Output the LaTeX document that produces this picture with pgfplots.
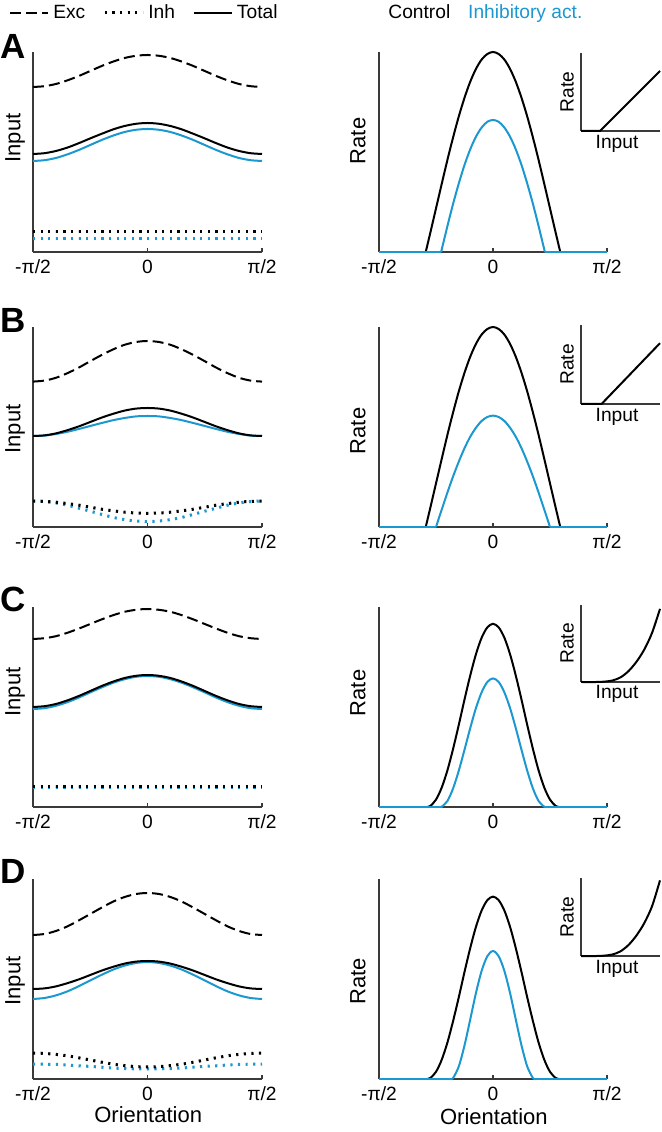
\documentclass[border=0pt]{standalone}
\usepackage{pgfplots}
\usepackage{pgfplotstable}
\pgfplotsset{compat=1.18}
\usepackage{fontspec}
\setmainfont{Liberation Sans}
\definecolor{ablue}{HTML}{1B98D0}
\definecolor{axgray}{HTML}{3A3A3A}
\newcommand\fs{\fontsize{9.6bp}{11bp}\selectfont}
\newcommand\fl{\fontsize{11bp}{13bp}\selectfont}

% Input tuning (left column): x = orientation / (pi/2)
\pgfplotstableread{
x exc totk totb inhk inhb
-1.0 0.825 0.490 0.455 0.100 0.065
-0.9 0.829 0.494 0.459 0.100 0.065
-0.8 0.840 0.505 0.470 0.100 0.065
-0.7 0.858 0.522 0.488 0.100 0.065
-0.6 0.880 0.544 0.510 0.100 0.065
-0.5 0.905 0.568 0.535 0.100 0.065
-0.4 0.930 0.591 0.560 0.100 0.065
-0.3 0.952 0.613 0.582 0.100 0.065
-0.2 0.970 0.630 0.600 0.100 0.065
-0.1 0.981 0.641 0.611 0.100 0.065
0.0 0.985 0.645 0.615 0.100 0.065
0.1 0.981 0.641 0.611 0.100 0.065
0.2 0.970 0.630 0.600 0.100 0.065
0.3 0.952 0.613 0.582 0.100 0.065
0.4 0.930 0.591 0.560 0.100 0.065
0.5 0.905 0.568 0.535 0.100 0.065
0.6 0.880 0.544 0.510 0.100 0.065
0.7 0.858 0.522 0.488 0.100 0.065
0.8 0.840 0.505 0.470 0.100 0.065
0.9 0.829 0.494 0.459 0.100 0.065
1.0 0.825 0.490 0.455 0.100 0.065
}\inA
\pgfplotstableread{
x exc totk totb inhk inhb
-1.0 0.727 0.455 0.455 0.130 0.130
-0.9 0.732 0.458 0.457 0.128 0.127
-0.8 0.746 0.468 0.465 0.124 0.120
-0.7 0.769 0.484 0.476 0.117 0.109
-0.6 0.797 0.503 0.490 0.109 0.094
-0.5 0.829 0.525 0.505 0.099 0.079
-0.4 0.860 0.547 0.520 0.089 0.063
-0.3 0.888 0.566 0.534 0.081 0.048
-0.2 0.911 0.582 0.545 0.074 0.037
-0.1 0.925 0.592 0.553 0.070 0.030
0.0 0.930 0.595 0.555 0.068 0.027
0.1 0.925 0.592 0.553 0.070 0.030
0.2 0.911 0.582 0.545 0.074 0.037
0.3 0.888 0.566 0.534 0.081 0.048
0.4 0.860 0.547 0.520 0.089 0.063
0.5 0.829 0.525 0.505 0.099 0.079
0.6 0.797 0.503 0.490 0.109 0.094
0.7 0.769 0.484 0.476 0.117 0.109
0.8 0.746 0.468 0.465 0.124 0.120
0.9 0.732 0.458 0.457 0.128 0.127
1.0 0.727 0.455 0.455 0.130 0.130
}\inB
\pgfplotstableread{
x exc totk totb inhk inhb
-1.0 0.840 0.500 0.490 0.100 0.095
-0.9 0.844 0.504 0.494 0.100 0.095
-0.8 0.854 0.515 0.506 0.100 0.095
-0.7 0.871 0.533 0.524 0.100 0.095
-0.6 0.892 0.555 0.547 0.100 0.095
-0.5 0.915 0.580 0.573 0.100 0.095
-0.4 0.938 0.605 0.598 0.100 0.095
-0.3 0.959 0.627 0.621 0.100 0.095
-0.2 0.976 0.645 0.639 0.100 0.095
-0.1 0.986 0.656 0.651 0.100 0.095
0.0 0.990 0.660 0.655 0.100 0.095
0.1 0.986 0.656 0.651 0.100 0.095
0.2 0.976 0.645 0.639 0.100 0.095
0.3 0.959 0.627 0.621 0.100 0.095
0.4 0.938 0.605 0.598 0.100 0.095
0.5 0.915 0.580 0.573 0.100 0.095
0.6 0.892 0.555 0.547 0.100 0.095
0.7 0.871 0.533 0.524 0.100 0.095
0.8 0.854 0.515 0.506 0.100 0.095
0.9 0.844 0.504 0.494 0.100 0.095
1.0 0.840 0.500 0.490 0.100 0.095
}\inC
\pgfplotstableread{
x exc totk totb inhk inhb
-1.0 0.720 0.450 0.400 0.130 0.075
-0.9 0.725 0.453 0.405 0.128 0.074
-0.8 0.740 0.463 0.418 0.123 0.073
-0.7 0.763 0.479 0.438 0.116 0.070
-0.6 0.793 0.498 0.464 0.106 0.066
-0.5 0.825 0.520 0.493 0.095 0.063
-0.4 0.857 0.542 0.521 0.084 0.059
-0.3 0.887 0.561 0.547 0.074 0.055
-0.2 0.910 0.577 0.567 0.067 0.052
-0.1 0.925 0.587 0.580 0.062 0.051
0.0 0.930 0.590 0.585 0.060 0.050
0.1 0.925 0.587 0.580 0.062 0.051
0.2 0.910 0.577 0.567 0.067 0.052
0.3 0.887 0.561 0.547 0.074 0.055
0.4 0.857 0.542 0.521 0.084 0.059
0.5 0.825 0.520 0.493 0.095 0.063
0.6 0.793 0.498 0.464 0.106 0.066
0.7 0.763 0.479 0.438 0.116 0.070
0.8 0.740 0.463 0.418 0.123 0.073
0.9 0.725 0.453 0.405 0.128 0.074
1.0 0.720 0.450 0.400 0.130 0.075
}\inD

\pgfplotsset{
  base/.style={scale only axis, axis x line*=bottom, axis y line*=left,
    axis line style={axgray, line width=0.8bp}, clip=false,
    xmin=-1, xmax=1, ymin=0, ymax=1, ytick=\empty, xtick={-1,0,1},
    xticklabels={-π/2,0,π/2}, tick align=inside, major tick length=2bp,
    tick style={axgray, line width=0.8bp}, ticklabel style={font=\fs},
    xticklabel style={yshift=-0.5bp},
    label style={font=\fl}, height=100bp},
  leftp/.style={base, width=114.5bp, ylabel={Input}},
  rightp/.style={base, width=114bp, ylabel={Rate}},
  inset/.style={scale only axis, axis x line*=bottom, axis y line*=left,
    axis line style={axgray, line width=0.8bp}, clip=false,
    xtick=\empty, ytick=\empty, xmin=0, xmax=1, ymin=0, ymax=1,
    width=39.5bp, xlabel={Input}, ylabel={Rate}, label style={font=\fs},
    xlabel style={at={(axis description cs:0.456,-0.16)}, anchor=center},
    ylabel style={at={(axis description cs:-0.177,0.5)}, anchor=center}},
  exc/.style={black, line width=1bp, dash pattern=on 5.5bp off 2.5bp},
  inhk/.style={black, line width=1.5bp, dash pattern=on 1.1bp off 2.7bp},
  inhb/.style={ablue, line width=1.5bp, dash pattern=on 1.1bp off 2.7bp},
  totk/.style={black, line width=1bp},
  totb/.style={ablue, line width=1bp},
  ivl/.style={black, line width=1bp},
}

\begin{document}
\begin{tikzpicture}
\useasboundingbox (0,0) rectangle (331bp,566bp);

% ---------- Row A ----------
\begin{axis}[leftp, at={(16.5bp,440bp)}, anchor=south west,
  ylabel style={at={(axis description cs:-0.0786,0.57)}, anchor=center},
  legend style={at={(axis description cs:0.491,1.195)}, anchor=center, draw=none, fill=none,
    legend columns=-1, font=\fs, /tikz/every even column/.append style={column sep=7bp}},
  legend image code/.code={\draw[#1] (0bp,0bp) -- (19bp,0bp);}]
\addlegendimage{exc}\addlegendentry{Exc}
\addlegendimage{inhk}\addlegendentry{Inh}
\addlegendimage{totk}\addlegendentry{Total}
\addplot[exc, smooth] table[x=x, y=exc] {\inA};
\addplot[inhb] table[x=x, y=inhb] {\inA};
\addplot[inhk] table[x=x, y=inhk] {\inA};
\addplot[totb, smooth] table[x=x, y=totb] {\inA};
\addplot[totk, smooth] table[x=x, y=totk] {\inA};
\end{axis}

\begin{axis}[rightp, at={(189.5bp,440bp)}, anchor=south west,
  ylabel style={at={(axis description cs:-0.092,0.555)}, anchor=center}]
\addplot[totk, smooth] coordinates {(-0.59,0)(-0.55,0.096)(-0.5,0.218)(-0.45,0.340)(-0.4,0.460)(-0.35,0.573)(-0.3,0.678)(-0.25,0.771)(-0.2,0.851)(-0.15,0.915)(-0.1,0.962)(-0.05,0.990)(0,1)(0.05,0.990)(0.1,0.962)(0.15,0.915)(0.2,0.851)(0.25,0.771)(0.3,0.678)(0.35,0.573)(0.4,0.460)(0.45,0.340)(0.5,0.218)(0.55,0.096)(0.59,0)};
\addplot[totb, smooth] coordinates {(-0.455,0)(-0.45,0.012)(-0.4,0.129)(-0.35,0.241)(-0.3,0.343)(-0.25,0.435)(-0.2,0.513)(-0.15,0.576)(-0.1,0.622)(-0.05,0.651)(0,0.660)(0.05,0.651)(0.1,0.622)(0.15,0.576)(0.2,0.513)(0.25,0.435)(0.3,0.343)(0.35,0.241)(0.4,0.129)(0.45,0.012)(0.455,0)};
\addplot[totb] coordinates {(-1,0)(-0.455,0)};
\addplot[totb] coordinates {(0.455,0)(1,0)};
\end{axis}

\begin{axis}[inset, at={(290.5bp,500.5bp)}, anchor=south west, height=39bp]
\addplot[ivl] coordinates {(0,0)(0.24,0)(1,0.77)};
\end{axis}

% ---------- Row B ----------
\begin{axis}[leftp, at={(16.5bp,302.5bp)}, anchor=south west,
  ylabel style={at={(axis description cs:-0.0786,0.49)}, anchor=center}]
\addplot[exc, smooth] table[x=x, y=exc] {\inB};
\addplot[inhb, smooth] table[x=x, y=inhb] {\inB};
\addplot[inhk, smooth] table[x=x, y=inhk] {\inB};
\addplot[totb, smooth] table[x=x, y=totb] {\inB};
\addplot[totk, smooth] table[x=x, y=totk] {\inB};
\end{axis}

\begin{axis}[rightp, at={(189.5bp,302.5bp)}, anchor=south west,
  ylabel style={at={(axis description cs:-0.092,0.48)}, anchor=center}]
\addplot[totk, smooth] coordinates {(-0.59,0)(-0.55,0.096)(-0.5,0.218)(-0.45,0.340)(-0.4,0.460)(-0.35,0.573)(-0.3,0.678)(-0.25,0.771)(-0.2,0.851)(-0.15,0.915)(-0.1,0.962)(-0.05,0.990)(0,1)(0.05,0.990)(0.1,0.962)(0.15,0.915)(0.2,0.851)(0.25,0.771)(0.3,0.678)(0.35,0.573)(0.4,0.460)(0.45,0.340)(0.5,0.218)(0.55,0.096)(0.59,0)};
\addplot[totb, smooth] coordinates {(-0.5,0)(-0.45,0.087)(-0.4,0.172)(-0.35,0.253)(-0.3,0.327)(-0.25,0.394)(-0.2,0.451)(-0.15,0.496)(-0.1,0.530)(-0.05,0.550)(0,0.557)(0.05,0.550)(0.1,0.530)(0.15,0.496)(0.2,0.451)(0.25,0.394)(0.3,0.327)(0.35,0.253)(0.4,0.172)(0.45,0.087)(0.5,0)};
\addplot[totb] coordinates {(-1,0)(-0.5,0)};
\addplot[totb] coordinates {(0.5,0)(1,0)};
\end{axis}

\begin{axis}[inset, at={(290.5bp,364bp)}, anchor=south west, height=39.5bp]
\addplot[ivl] coordinates {(0,0)(0.26,0)(1,0.77)};
\end{axis}

% ---------- Row C ----------
\begin{axis}[leftp, at={(16.5bp,162.5bp)}, anchor=south west,
  ylabel style={at={(axis description cs:-0.0786,0.575)}, anchor=center}]
\addplot[exc, smooth] table[x=x, y=exc] {\inC};
\addplot[inhb] table[x=x, y=inhb] {\inC};
\addplot[inhk] table[x=x, y=inhk] {\inC};
\addplot[totb, smooth] table[x=x, y=totb] {\inC};
\addplot[totk, smooth] table[x=x, y=totk] {\inC};
\end{axis}

\begin{axis}[rightp, at={(189.5bp,162.5bp)}, anchor=south west,
  ylabel style={at={(axis description cs:-0.092,0.57)}, anchor=center}]
\addplot[totk, smooth] coordinates {(-0.58,0)(-0.55,0.005)(-0.5,0.037)(-0.45,0.097)(-0.4,0.183)(-0.35,0.291)(-0.3,0.411)(-0.25,0.537)(-0.2,0.657)(-0.15,0.763)(-0.1,0.846)(-0.05,0.898)(0,0.916)(0.05,0.898)(0.1,0.846)(0.15,0.763)(0.2,0.657)(0.25,0.537)(0.3,0.411)(0.35,0.291)(0.4,0.183)(0.45,0.097)(0.5,0.037)(0.55,0.005)(0.58,0)};
\addplot[totb, smooth] coordinates {(-0.46,0)(-0.45,0.001)(-0.4,0.030)(-0.35,0.093)(-0.3,0.182)(-0.25,0.286)(-0.2,0.394)(-0.15,0.494)(-0.1,0.573)(-0.05,0.625)(0,0.643)(0.05,0.625)(0.1,0.573)(0.15,0.494)(0.2,0.394)(0.25,0.286)(0.3,0.182)(0.35,0.093)(0.4,0.030)(0.45,0.001)(0.46,0)};
\addplot[totb] coordinates {(-1,0)(-0.46,0)};
\addplot[totb] coordinates {(0.46,0)(1,0)};
\end{axis}

\begin{axis}[inset, at={(290.5bp,225bp)}, anchor=south west, height=38.5bp]
\addplot[ivl, smooth] coordinates {(0,0)(0.2,0)(0.3,0.005)(0.4,0.02)(0.5,0.06)(0.6,0.14)(0.7,0.26)(0.8,0.42)(0.9,0.64)(1,0.95)};
\end{axis}

% ---------- Row D ----------
\begin{axis}[leftp, at={(16.5bp,26.5bp)}, anchor=south west, xlabel={Orientation},
  xlabel style={at={(axis description cs:0.503,-0.18)}, anchor=center},
  ylabel style={at={(axis description cs:-0.0786,0.49)}, anchor=center}]
\addplot[exc, smooth] table[x=x, y=exc] {\inD};
\addplot[inhb, smooth] table[x=x, y=inhb] {\inD};
\addplot[inhk, smooth] table[x=x, y=inhk] {\inD};
\addplot[totb, smooth] table[x=x, y=totb] {\inD};
\addplot[totk, smooth] table[x=x, y=totk] {\inD};
\end{axis}

\begin{axis}[rightp, at={(189.5bp,26.5bp)}, anchor=south west, xlabel={Orientation},
  xlabel style={at={(axis description cs:0.504,-0.19)}, anchor=center},
  ylabel style={at={(axis description cs:-0.092,0.49)}, anchor=center}]
\addplot[totk, smooth] coordinates {(-0.58,0)(-0.55,0.005)(-0.5,0.036)(-0.45,0.096)(-0.4,0.182)(-0.35,0.290)(-0.3,0.409)(-0.25,0.535)(-0.2,0.654)(-0.15,0.760)(-0.1,0.842)(-0.05,0.894)(0,0.912)(0.05,0.894)(0.1,0.842)(0.15,0.760)(0.2,0.654)(0.25,0.535)(0.3,0.409)(0.35,0.290)(0.4,0.182)(0.45,0.096)(0.5,0.036)(0.55,0.005)(0.58,0)};
\addplot[totb, smooth] coordinates {(-0.37,0)(-0.35,0.005)(-0.3,0.063)(-0.25,0.168)(-0.2,0.297)(-0.15,0.429)(-0.1,0.540)(-0.05,0.614)(0,0.640)(0.05,0.614)(0.1,0.540)(0.15,0.429)(0.2,0.297)(0.25,0.168)(0.3,0.063)(0.35,0.005)(0.37,0)};
\addplot[totb] coordinates {(-1,0)(-0.37,0)};
\addplot[totb] coordinates {(0.37,0)(1,0)};
\end{axis}

\begin{axis}[inset, at={(290.5bp,88bp)}, anchor=south west, height=39bp]
\addplot[ivl, smooth] coordinates {(0,0)(0.2,0)(0.3,0.005)(0.4,0.02)(0.5,0.06)(0.6,0.14)(0.7,0.26)(0.8,0.42)(0.9,0.64)(1,0.97)};
\end{axis}

% ---------- headers and panel letters ----------
\node[anchor=base west, font=\fs, inner sep=0pt] at (194bp,556.6bp) {Control};
\node[anchor=base west, font=\fs, inner sep=0pt, text=ablue] at (233.9bp,556.6bp) {Inhibitory act.};
\node[anchor=base west, font=\fontsize{17.5bp}{19bp}\selectfont\bfseries, inner sep=0pt] at (0bp,536.5bp) {A};
\node[anchor=base west, font=\fontsize{17.5bp}{19bp}\selectfont\bfseries, inner sep=0pt] at (0bp,399.5bp) {B};
\node[anchor=base west, font=\fontsize{17.5bp}{19bp}\selectfont\bfseries, inner sep=0pt] at (0bp,260bp) {C};
\node[anchor=base west, font=\fontsize{17.5bp}{19bp}\selectfont\bfseries, inner sep=0pt] at (0bp,124bp) {D};
\end{tikzpicture}
\end{document}
